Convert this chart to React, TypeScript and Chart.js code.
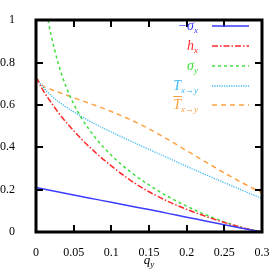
import { useEffect, useRef } from "react";
import { Chart, registerables } from "chart.js";
Chart.register(...registerables);

const qGrid = [0, 0.01, 0.02, 0.03, 0.04, 0.05, 0.06, 0.08, 0.1, 0.125, 0.15, 0.175, 0.2, 0.225, 0.25, 0.275, 0.3];
const qSigmaY = [0.016, 0.02, 0.03, 0.04, 0.05, 0.06, 0.08, 0.1, 0.125, 0.15, 0.175, 0.2, 0.225, 0.25, 0.275, 0.3];

const minusSigmaX = [0.21, 0.203, 0.196, 0.189, 0.182, 0.175, 0.168, 0.154, 0.14, 0.123, 0.106, 0.088, 0.07, 0.052, 0.034, 0.017, 0];
const hX = [0.73, 0.665, 0.612, 0.562, 0.518, 0.478, 0.44, 0.372, 0.312, 0.245, 0.19, 0.145, 0.107, 0.074, 0.045, 0.02, 0];
const sigmaY = [1.0, 0.93, 0.79, 0.685, 0.605, 0.54, 0.44, 0.362, 0.285, 0.222, 0.168, 0.122, 0.082, 0.048, 0.02, 0];
const transferT = [0.73, 0.682, 0.645, 0.615, 0.59, 0.567, 0.546, 0.507, 0.472, 0.43, 0.39, 0.35, 0.31, 0.271, 0.233, 0.195, 0.158];
const transferTBar = [0.73, 0.688, 0.673, 0.66, 0.647, 0.634, 0.621, 0.596, 0.569, 0.531, 0.487, 0.437, 0.384, 0.331, 0.279, 0.23, 0.185];

const xTicks = [0, 0.05, 0.1, 0.15, 0.2, 0.25, 0.3];
const xTickLabels = ["0", "0.05", "0.1", "0.15", "0.2", "0.25", "0.3"];
const yTicks = [0, 0.2, 0.4, 0.6, 0.8, 1];
const yTickLabels = ["0", "0.2", "0.4", "0.6", "0.8", "1"];

const legendLabels = [
  { main: "\u2212\u03c3", sub: "x", bar: false },
  { main: "h", sub: "x", bar: false },
  { main: "\u03c3", sub: "y", bar: false },
  { main: "T", sub: "x\u2192y", bar: false },
  { main: "T", sub: "x\u2192y", bar: true },
];

const colors = ["#3b3bff", "#ff2b2b", "#3ee03e", "#3cb8f0", "#ffa040"];
const dashes = [[], [6, 2, 1.5, 2], [3, 3], [1.2, 1.2], [5, 4]];

const SERIF = '"Liberation Serif", "DejaVu Serif", serif';

const framePlugin = {
  id: "frame",
  afterDraw(chart: any) {
    const ctx = chart.ctx;
    const a = chart.chartArea;
    const sx = chart.scales.x;
    const sy = chart.scales.y;
    const L = Math.round(a.left);
    const R = Math.round(a.right);
    const T = Math.round(a.top);
    const B = Math.round(a.bottom);
    ctx.save();
    ctx.setLineDash([]);
    ctx.strokeStyle = "#000000";
    ctx.lineWidth = 3;
    ctx.lineCap = "square";
    ctx.beginPath();
    ctx.rect(L, T, R - L, B - T);
    ctx.stroke();
    ctx.lineWidth = 2;
    ctx.lineCap = "butt";
    const tl = 7;
    ctx.beginPath();
    for (let k = 0; k < xTicks.length; k++) {
      const px = Math.round(sx.getPixelForValue(xTicks[k]));
      ctx.moveTo(px, B);
      ctx.lineTo(px, B - tl);
      ctx.moveTo(px, T);
      ctx.lineTo(px, T + tl);
    }
    for (let k = 0; k < yTicks.length; k++) {
      const py = Math.round(sy.getPixelForValue(yTicks[k]));
      ctx.moveTo(L, py);
      ctx.lineTo(L + tl, py);
      ctx.moveTo(R, py);
      ctx.lineTo(R - tl, py);
    }
    ctx.stroke();

    // legend
    const rowY = [26, 46, 66, 86, 105];
    const labelRight = 198;
    const lineX0 = 212;
    const lineX1 = 249;
    chart.data.datasets.forEach((ds: any, i: number) => {
      const y = rowY[i];
      ctx.strokeStyle = ds.borderColor;
      ctx.lineWidth = ds.borderWidth;
      ctx.setLineDash(ds.borderDash || []);
      ctx.beginPath();
      ctx.moveTo(lineX0, y);
      ctx.lineTo(lineX1, y);
      ctx.stroke();
      ctx.setLineDash([]);
      const lab = legendLabels[i];
      ctx.fillStyle = ds.borderColor;
      ctx.textBaseline = "alphabetic";
      ctx.textAlign = "left";
      ctx.font = `italic 9px ${SERIF}`;
      const sw = ctx.measureText(lab.sub).width;
      ctx.font = `italic 14px ${SERIF}`;
      const mw = ctx.measureText(lab.main).width;
      const x0 = labelRight - sw - mw;
      ctx.fillText(lab.main, x0, y + 4);
      if (lab.bar) {
        ctx.fillRect(x0, y - 9, mw + 1, 1);
      }
      ctx.font = `italic 9px ${SERIF}`;
      ctx.fillText(lab.sub, x0 + mw, y + 7);
    });

    // x-axis title q_y
    ctx.fillStyle = "#000";
    ctx.font = `italic 13px ${SERIF}`;
    const qw = ctx.measureText("q").width;
    ctx.font = `italic 9px ${SERIF}`;
    const yw = ctx.measureText("y").width;
    const cx = (a.left + a.right) / 2;
    const tx = cx - (qw + yw) / 2;
    ctx.font = `italic 13px ${SERIF}`;
    ctx.fillText("q", tx, 264);
    ctx.font = `italic 9px ${SERIF}`;
    ctx.fillText("y", tx + qw, 267);
    ctx.restore();
  },
};

export default function App() {
  const ref = useRef<HTMLCanvasElement | null>(null);
  useEffect(() => {
    document.body.style.margin = "0";
    const canvas = ref.current;
    if (!canvas) return;
    const series = [
      { xs: qGrid, ys: minusSigmaX },
      { xs: qGrid, ys: hX },
      { xs: qSigmaY, ys: sigmaY },
      { xs: qGrid, ys: transferT },
      { xs: qGrid, ys: transferTBar },
    ];
    const chart = new Chart(canvas, {
      type: "line",
      data: {
        datasets: series.map((s, i) => ({
          label: legendLabels[i].main + legendLabels[i].sub,
          data: s.xs.map((x, j) => ({ x, y: s.ys[j] })),
          borderColor: colors[i],
          backgroundColor: colors[i],
          borderWidth: i === 3 ? 1.3 : 1.5,
          borderDash: dashes[i],
          pointRadius: 0,
          fill: false,
          cubicInterpolationMode: "monotone",
        })),
      },
      options: {
        responsive: false,
        animation: false,
        layout: { padding: { left: 0, top: 10, right: 15, bottom: 0 } },
        plugins: { legend: { display: false }, tooltip: { enabled: false } },
        scales: {
          x: {
            type: "linear",
            min: 0,
            max: 0.3,
            grid: { display: false },
            border: { display: false },
            afterBuildTicks: (scale: any) => {
              scale.ticks = xTicks.map((v) => ({ value: v }));
            },
            afterFit: (scale: any) => {
              scale.height = 45;
            },
            ticks: {
              padding: 6,
              color: "#000",
              font: { family: SERIF, size: 12 },
              maxRotation: 0,
              autoSkip: false,
              callback: (v: any) => {
                const k = xTicks.findIndex((t) => Math.abs(t - v) < 1e-9);
                return k >= 0 ? xTickLabels[k] : "";
              },
            },
          },
          y: {
            type: "linear",
            min: 0,
            max: 1,
            grid: { display: false },
            border: { display: false },
            afterBuildTicks: (scale: any) => {
              scale.ticks = yTicks.map((v) => ({ value: v }));
            },
            afterFit: (scale: any) => {
              scale.width = 36;
            },
            ticks: {
              padding: 13,
              color: "#000",
              font: { family: SERIF, size: 12 },
              autoSkip: false,
              callback: (v: any) => {
                const k = yTicks.findIndex((t) => Math.abs(t - v) < 1e-9);
                return k >= 0 ? yTickLabels[k] : "";
              },
            },
          },
        },
      },
      plugins: [framePlugin],
    } as any);
    return () => chart.destroy();
  }, []);
  return <canvas ref={ref} width={277} height={277} style={{ display: "block" }} />;
}
